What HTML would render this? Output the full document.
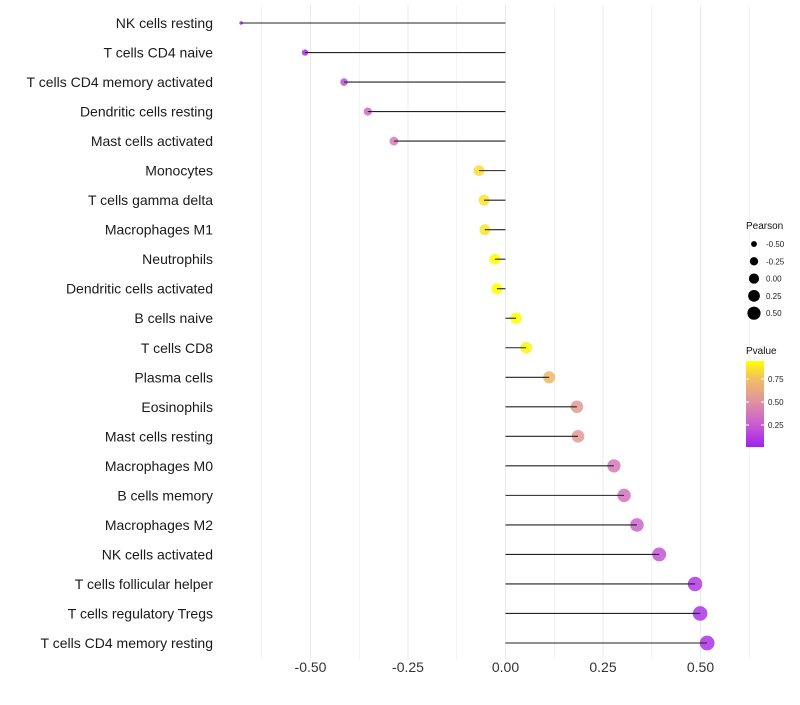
<!DOCTYPE html>
<html><head><meta charset="utf-8"><style>
body{margin:0;background:#fff;font-family:"Liberation Sans",sans-serif}
</style></head><body>
<svg id="c" width="800" height="700" xmlns="http://www.w3.org/2000/svg">
<defs><linearGradient id="pg" x1="0" y1="1" x2="0" y2="0">
<stop offset="0" stop-color="#A020F0"/><stop offset="0.27" stop-color="#CA5FCF"/><stop offset="0.53" stop-color="#DF92A0"/><stop offset="0.8" stop-color="#F2C060"/><stop offset="1" stop-color="#FFFF00"/>
</linearGradient></defs>
</svg>
<script>
const cells=["NK cells resting","T cells CD4 naive","T cells CD4 memory activated","Dendritic cells resting","Mast cells activated","Monocytes","T cells gamma delta","Macrophages M1","Neutrophils","Dendritic cells activated","B cells naive","T cells CD8","Plasma cells","Eosinophils","Mast cells resting","Macrophages M0","B cells memory","Macrophages M2","NK cells activated","T cells follicular helper","T cells regulatory  Tregs","T cells CD4 memory resting"];
const pearson=[-0.678,-0.514,-0.414,-0.353,-0.286,-0.068,-0.055,-0.053,-0.027,-0.022,0.027,0.053,0.112,0.183,0.186,0.278,0.304,0.337,0.394,0.486,0.499,0.517];
const pvalue=[0.001,0.05,0.18,0.3,0.4,0.85,0.87,0.87,0.95,0.95,0.95,0.92,0.72,0.55,0.55,0.38,0.35,0.28,0.22,0.1,0.08,0.07];
const xticks=[-0.5,-0.25,0,0.25,0.5];
const xtickLabels=["-0.50","-0.25","0.00","0.25","0.50"];
const legVals=[-0.5,-0.25,0,0.25,0.5];
const pTicks=[0.25,0.5,0.75];
const svg=document.getElementById('c');
const NS="http://www.w3.org/2000/svg";
function mk(t,a,name,parent){const e=document.createElementNS(NS,t);for(const k in a)e.setAttribute(k,a[k]);


(parent||svg).appendChild(e);return e;}
const X=v=>505.5+v*390;
const Y=i=>23+i*(620/21);
const minV=Math.min(...pearson),maxV=Math.max(...pearson);
const R=v=>Math.sqrt(3+(v-minV)/(maxV-minV)*51);
const stops=[[0,[160,32,240]],[0.27,[202,95,207]],[0.53,[223,146,160]],[0.8,[242,192,96]],[1,[255,255,0]]];
function col(p){p=Math.max(0,Math.min(1,p/0.95));for(let i=1;i<stops.length;i++){if(p<=stops[i][0]){const a=stops[i-1],b=stops[i],t=(p-a[0])/(b[0]-a[0]);return 'rgb('+a[1].map((c,j)=>Math.round(c+(b[1][j]-c)*t)).join(',')+')';}}return 'rgb(255,255,0)';}
for(let v=-0.75;v<=0.625;v+=0.125){const x=X(v);if(x<225||x>790)continue;
mk('line',{x1:x,x2:x,y1:5,y2:660,stroke:'#ebebeb','stroke-width':Math.abs(v*4-Math.round(v*4))<1e-9?1:0.6},'grid-line');}
xticks.forEach((v,i)=>{const t=mk('text',{x:X(v),y:672,'text-anchor':'middle','font-size':14,fill:'#333'},'x-tick-label');t.textContent=xtickLabels[i];});
cells.forEach((c,i)=>{
const t=mk('text',{x:213,y:Y(i)+5,'text-anchor':'end','font-size':14,fill:'#1a1a1a'},'y-label');t.textContent=c;
mk('circle',{cx:X(pearson[i]),cy:Y(i),r:R(pearson[i]),fill:col(pvalue[i]),'fill-opacity':0.85},'lollipop-point');
mk('line',{x1:X(0),x2:X(pearson[i]),y1:Y(i),y2:Y(i),stroke:'#222','stroke-width':1.1},'lollipop-stem');
});
let t=mk('text',{x:746,y:229,'font-size':10,fill:'#111'},'size-legend-title');t.textContent='Pearson';
legVals.forEach((v,i)=>{const y=244+i*17.3;mk('circle',{cx:754,cy:y,r:R(v)*0.9,fill:'#000'},'size-legend-key');
const l=mk('text',{x:766,y:y+3,'font-size':8,fill:'#222'},'size-legend-label');l.textContent=v.toFixed(2);});
t=mk('text',{x:746,y:354,'font-size':10,fill:'#111'},'color-legend-title');t.textContent='Pvalue';
mk('rect',{x:746,y:361,width:18,height:86,fill:'url(#pg)'},'color-bar');
const PY=p=>448-p*92;
pTicks.forEach(p=>{mk('line',{x1:746,x2:749,y1:PY(p),y2:PY(p),stroke:'#fff'},'color-tick');mk('line',{x1:761,x2:764,y1:PY(p),y2:PY(p),stroke:'#fff'},'color-tick');
const l=mk('text',{x:768,y:PY(p)+3,'font-size':8,fill:'#222'},'color-legend-label');l.textContent=p.toFixed(2);});
</script>
</body></html>
